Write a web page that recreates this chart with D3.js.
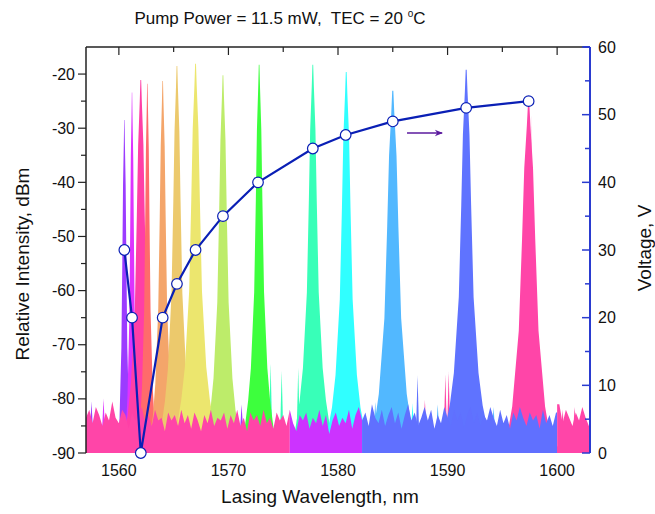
<!DOCTYPE html>
<html>
<head>
<meta charset="utf-8">
<script src="https://cdn.jsdelivr.net/npm/d3@7"></script>
<style>
  body { margin: 0; background: #fff; }
  svg { font-family: "Liberation Sans", Arial, sans-serif; }
</style>
</head>
<body>
<div id="chart"></div>
<script>
// ---- data ----
// laser lines: centre wavelength (nm), peak level (dBm), colour, relative width
const peakWl    = [1560.5, 1561.2, 1562.0, 1562.6, 1564.0, 1565.3, 1567.0, 1569.5, 1572.8, 1577.7, 1580.75, 1585.0, 1591.7, 1597.4];
const peakDbm   = [-28.5, -23.4, -21.1, -21.8, -21.3, -18.5, -18.1, -20.2, -18.3, -18.3, -19.6, -23.1, -19.2, -25.4];
const peakWidth = [0.6, 0.55, 1.2, 0.65, 0.9, 1.1, 1.3, 1.15, 1.0, 1.2, 1.3, 1.7, 1.5, 2.0];
const peakColors = ["#9b3cff", "#dd33ff", "#ff3fa6", "#ff6b6b", "#f4a56a", "#ecc96c", "#ece66e",
                    "#bdec6a", "#3dff3d", "#38ffb8", "#30ffff", "#52b8ff", "#5f73ff", "#ff45a8"];

// typical line shape: [dB below peak, half width nm]
const lineShape = [[0, 0.03], [4, 0.08], [12, 0.2], [25, 0.3], [42, 0.45], [56, 0.75], [62, 1.0], [75, 1.6]];

// small side modes / noise spikes: [wavelength, dBm, colour]
const sideSpikes = [
  [1557.5, -80.5, "#9b3cff"], [1558.6, -80.0, "#dd33ff"], [1559.4, -80.8, "#9b3cff"],
  [1563.2, -81.5, "#dd33ff"], [1564.36, -74.7, "#ece66e"], [1566.4, -81.2, "#3dff3d"],
  [1568.1, -81.5, "#9b3cff"], [1569.47, -75.9, "#3dff3d"], [1570.14, -75.7, "#3dff3d"],
  [1571.2, -81.0, "#9b3cff"], [1573.85, -73.4, "#38ffb8"], [1574.86, -74.8, "#38ffb8"],
  [1576.37, -74.3, "#38ffb8"], [1578.9, -81.0, "#30ffff"], [1581.24, -71.0, "#52b8ff"],
  [1583.4, -80.5, "#52b8ff"], [1585.5, -74.8, "#5f73ff"], [1586.8, -80.8, "#30ffff"],
  [1587.26, -75.7, "#5f73ff"], [1587.93, -80.2, "#ff45a8"], [1589.1, -81.0, "#52b8ff"],
  [1589.8, -75.5, "#ff45a8"], [1590.1, -75.0, "#ff45a8"], [1592.34, -71.6, "#ff45a8"],
  [1594.2, -81.5, "#52b8ff"], [1597.67, -27.6, "#ff45a8"], [1598.6, -81.0, "#52b8ff"],
  [1600.5, -82.0, "#ff45a8"], [1601.6, -81.5, "#ff45a8"]
];

// noise floor, every 0.3 nm from 1557 nm
const floorStart = 1557;
const floorStep = 0.3;
const floorDbm = [
  -83.5, -82.0, -84.5, -81.5, -83.0, -85.0, -82.5, -84.0, -80.5, -83.5,
  -84.5, -82.0, -83.0, -85.5, -82.5, -84.0, -83.0, -81.5, -84.5, -83.0,
  -85.0, -82.0, -84.0, -83.5, -86.0, -82.5, -84.0, -83.0, -85.0, -82.0,
  -84.5, -83.0, -85.5, -82.5, -84.0, -86.0, -83.0, -84.5, -82.0, -85.0,
  -83.5, -84.0, -82.5, -85.5, -83.0, -84.5, -82.0, -85.0, -83.5, -86.0,
  -82.5, -84.0, -83.0, -85.0, -82.0, -84.5, -83.5, -85.5, -82.5, -84.0,
  -83.0, -85.0, -82.0, -84.5, -86.0, -83.0, -84.0, -82.5, -85.5, -83.5,
  -84.5, -82.0, -85.0, -83.0, -86.5, -84.0, -82.5, -85.0, -83.5, -84.5,
  -82.0, -85.5, -83.0, -81.5, -84.0, -82.5, -85.0, -81.0, -83.5, -84.5,
  -82.0, -85.0, -83.0, -81.5, -84.5, -82.5, -85.5, -83.0, -81.0, -84.0,
  -82.5, -85.0, -83.5, -81.5, -84.0, -82.0, -85.5, -83.0, -84.5, -81.5,
  -83.5, -85.0, -82.0, -84.0, -82.5, -85.5, -83.0, -81.5, -84.5, -82.5,
  -85.0, -83.0, -84.0, -81.5, -83.5, -85.0, -82.0, -84.5, -83.0, -85.5,
  -82.5, -84.0, -81.5, -83.5, -85.0, -82.5, -84.0, -83.0, -85.5, -82.0,
  -84.5, -83.0, -85.0, -82.5, -81.0, -84.5, -82.0, -83.5, -85.0, -82.5,
  -84.0, -81.5, -83.5, -85.0, -83.0
];
// which trace is on top of the floor: [from nm, to nm, colour]
const floorBands = [[1557, 1575.6, "#ff45a8"], [1575.6, 1582.2, "#cc33ff"], [1582.2, 1600.0, "#6070ff"], [1600.0, 1603, "#ff45a8"]];

// voltage applied for each line (right axis)
const voltWl = [1560.5, 1561.2, 1562.0, 1564.0, 1565.3, 1567.0, 1569.5, 1572.7, 1577.7, 1580.7, 1585.0, 1591.7, 1597.4];
const voltV  = [30, 20, 0, 20, 25, 30, 35, 40, 45, 47, 49, 51, 52];

const arrowWl = [1586.3, 1589.5];
const arrowV = 47.3;

const xTicks = [1560, 1570, 1580, 1590, 1600];
const xMinor = [1565, 1575, 1585, 1595];
const yTicks = [-90, -80, -70, -60, -50, -40, -30, -20];
const yMinor = [-85, -75, -65, -55, -45, -35, -25];
const vTicks = [0, 10, 20, 30, 40, 50, 60];
const vMinor = [5, 15, 25, 35, 45, 55];

// ---- layout ----
const width = 655, height = 514;
const margin = { top: 47, right: 65, bottom: 61, left: 86 };

const svg = d3.select("#chart").append("svg")
    .attr("width", width)
    .attr("height", height);

const x = d3.scaleLinear().domain([1557, 1603]).range([margin.left, width - margin.right]);
const y = d3.scaleLinear().domain([-90, -15]).range([height - margin.bottom, margin.top]);
const yv = d3.scaleLinear().domain([0, 60]).range([height - margin.bottom, margin.top]);

svg.append("clipPath").attr("id", "plot")
  .append("rect")
    .attr("x", margin.left).attr("y", margin.top)
    .attr("width", width - margin.left - margin.right)
    .attr("height", height - margin.top - margin.bottom);

const plot = svg.append("g").attr("clip-path", "url(#plot)");
const line = d3.line().x(d => x(d[0])).y(d => y(Math.max(-90, d[1])));

// side modes first, so the main lines sit over them
plot.selectAll(".spike")
  .data(sideSpikes)
  .join("path")
    .attr("class", "spike")
    .attr("fill", d => d[2])
    .attr("d", d => line([[d[0] - 0.14, -90], [d[0] - 0.14, -86], [d[0], d[1]], [d[0] + 0.14, -86], [d[0] + 0.14, -90]]) + "Z");

// lasing lines
function peakPath(i) {
  const c = peakWl[i], top = peakDbm[i], f = peakWidth[i];
  const pts = lineShape.map(([drop, hw]) => [hw * f, top - drop]);
  const left = pts.slice().reverse().map(p => [c - p[0], p[1]]);
  const right = pts.map(p => [c + p[0], p[1]]);
  const last = pts[pts.length - 1];
  return line([[c - last[0], -90], ...left, ...right, [c + last[0], -90]]) + "Z";
}

plot.selectAll(".peak")
  .data(peakWl)
  .join("path")
    .attr("class", "peak")
    .attr("fill", (d, i) => peakColors[i])
    .attr("d", (d, i) => peakPath(i));

// noise floor on top
const floorPts = floorDbm.map((v, i) => [floorStart + i * floorStep, v]);
const area = d3.area().x(d => x(d[0])).y0(y(-90)).y1(d => y(d[1]));

floorBands.forEach(([a, b, col]) => {
  const pts = floorPts.filter(p => p[0] >= a - 0.001 && p[0] <= b + 0.001);
  if (pts.length && pts[0][0] > a) pts.unshift([a, pts[0][1]]);
  if (pts.length && pts[pts.length - 1][0] < b) pts.push([b, pts[pts.length - 1][1]]);
  plot.append("path")
    .datum(pts)
    .attr("fill", col)
    .attr("d", area);
});

// ---- axes ----
const axisCol = "#222";
const blue = "#2a3bd0";
const tickFont = 16;

// left
svg.append("line")
    .attr("x1", margin.left).attr("x2", margin.left)
    .attr("y1", margin.top).attr("y2", height - margin.bottom)
    .attr("stroke", axisCol).attr("stroke-width", 1.5);
svg.selectAll(".ytick").data(yTicks).join("line")
    .attr("x1", margin.left - 8).attr("x2", margin.left)
    .attr("y1", d => y(d)).attr("y2", d => y(d))
    .attr("stroke", axisCol).attr("stroke-width", 1.2);
svg.selectAll(".yminor").data(yMinor).join("line")
    .attr("x1", margin.left - 5).attr("x2", margin.left)
    .attr("y1", d => y(d)).attr("y2", d => y(d))
    .attr("stroke", axisCol).attr("stroke-width", 1.2);
svg.selectAll(".ylab").data(yTicks).join("text")
    .attr("x", margin.left - 11)
    .attr("y", d => y(d))
    .attr("dy", "0.35em")
    .attr("text-anchor", "end")
    .attr("font-size", tickFont)
    .attr("fill", "#111")
    .text(d => d);

// top
svg.append("line")
    .attr("x1", margin.left).attr("x2", width - margin.right)
    .attr("y1", margin.top).attr("y2", margin.top)
    .attr("stroke", axisCol).attr("stroke-width", 1.5);
svg.selectAll(".xtop").data(xTicks).join("line")
    .attr("x1", d => x(d)).attr("x2", d => x(d))
    .attr("y1", margin.top).attr("y2", margin.top + 8)
    .attr("stroke", axisCol).attr("stroke-width", 1.2);
svg.selectAll(".xtopm").data(xMinor).join("line")
    .attr("x1", d => x(d)).attr("x2", d => x(d))
    .attr("y1", margin.top).attr("y2", margin.top + 5)
    .attr("stroke", axisCol).attr("stroke-width", 1.2);

// bottom labels
svg.selectAll(".xlab").data(xTicks).join("text")
    .attr("x", d => x(d))
    .attr("y", height - margin.bottom + 23)
    .attr("text-anchor", "middle")
    .attr("font-size", tickFont)
    .attr("fill", "#111")
    .text(d => d);

// right (voltage)
svg.append("line")
    .attr("x1", width - margin.right).attr("x2", width - margin.right)
    .attr("y1", margin.top).attr("y2", height - margin.bottom)
    .attr("stroke", blue).attr("stroke-width", 2);
svg.append("line")
    .attr("x1", width - margin.right - 6).attr("x2", width - margin.right)
    .attr("y1", margin.top).attr("y2", margin.top)
    .attr("stroke", blue).attr("stroke-width", 2);
svg.selectAll(".vtick").data(vTicks).join("line")
    .attr("x1", width - margin.right - 8).attr("x2", width - margin.right)
    .attr("y1", d => yv(d)).attr("y2", d => yv(d))
    .attr("stroke", blue).attr("stroke-width", 1.5);
svg.selectAll(".vminor").data(vMinor).join("line")
    .attr("x1", width - margin.right - 5).attr("x2", width - margin.right)
    .attr("y1", d => yv(d)).attr("y2", d => yv(d))
    .attr("stroke", blue).attr("stroke-width", 1.5);
svg.selectAll(".vlab").data(vTicks).join("text")
    .attr("x", width - margin.right + 8)
    .attr("y", d => yv(d))
    .attr("dy", "0.35em")
    .attr("font-size", tickFont)
    .attr("fill", "#111")
    .text(d => d);

// ---- voltage curve ----
const vPts = voltWl.map((w, i) => [w, voltV[i]]);
svg.append("path")
    .datum(vPts)
    .attr("fill", "none")
    .attr("stroke", "#0a1fb5")
    .attr("stroke-width", 2.2)
    .attr("d", d3.line().x(d => x(d[0])).y(d => yv(d[1])));
svg.selectAll(".vpt").data(vPts).join("circle")
    .attr("cx", d => x(d[0]))
    .attr("cy", d => yv(d[1]))
    .attr("r", 5.3)
    .attr("fill", "#fff")
    .attr("stroke", "#0a1fb5")
    .attr("stroke-width", 1.2);

// arrow pointing to the right axis
svg.append("defs").append("marker")
    .attr("id", "head")
    .attr("viewBox", "0 0 10 10")
    .attr("refX", 9).attr("refY", 5)
    .attr("markerWidth", 6).attr("markerHeight", 5)
    .attr("markerUnits", "userSpaceOnUse")
    .attr("markerWidth", 12).attr("markerHeight", 8)
    .attr("orient", "auto")
  .append("path")
    .attr("d", "M0,1 L10,5 L0,9 L3,5 Z")
    .attr("fill", "#5b1a9e");
svg.append("line")
    .attr("x1", x(arrowWl[0])).attr("x2", x(arrowWl[1]))
    .attr("y1", yv(arrowV)).attr("y2", yv(arrowV))
    .attr("stroke", "#5b1a9e")
    .attr("stroke-width", 1.5)
    .attr("marker-end", "url(#head)");

// ---- titles ----
const title = svg.append("text")
    .attr("x", 280)
    .attr("y", 24)
    .attr("text-anchor", "middle")
    .attr("font-size", 17)
    .attr("fill", "#111")
    .style("white-space", "pre");
title.append("tspan").text("Pump Power = 11.5 mW,  TEC = 20 ");
title.append("tspan").attr("font-size", 10).attr("dy", -7).text("o");
title.append("tspan").attr("dy", 7).text("C");

svg.append("text")
    .attr("x", 320)
    .attr("y", 503)
    .attr("text-anchor", "middle")
    .attr("font-size", 19)
    .attr("fill", "#111")
    .text("Lasing Wavelength, nm");

svg.append("text")
    .attr("transform", `translate(29, 264) rotate(-90)`)
    .attr("text-anchor", "middle")
    .attr("font-size", 19)
    .attr("fill", "#111")
    .text("Relative Intensity, dBm");

svg.append("text")
    .attr("transform", `translate(651, 248) rotate(-90)`)
    .attr("text-anchor", "middle")
    .attr("font-size", 19)
    .attr("fill", "#111")
    .text("Voltage, V");
</script>
</body>
</html>
